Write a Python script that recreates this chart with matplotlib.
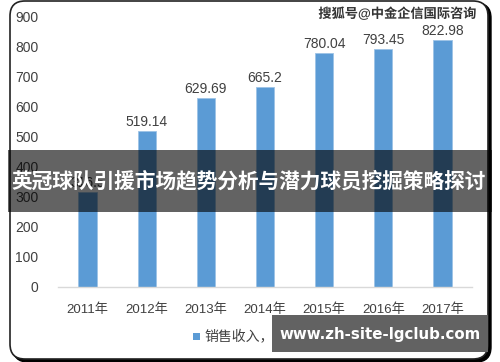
import matplotlib
matplotlib.use("Agg")
import matplotlib.pyplot as plt
from matplotlib.patches import FancyBboxPatch, Rectangle
import matplotlib.patheffects as pe

years = ["2011年", "2012年", "2013年", "2014年", "2015年", "2016年", "2017年"]
values = [316.5, 519.14, 629.69, 665.2, 780.04, 793.45, 822.98]
labels = ["316.5", "519.14", "629.69", "665.2", "780.04", "793.45", "822.98"]
yticks = [0, 100, 200, 300, 400, 500, 600, 700, 800, 900]
legend_label = "销售收入，亿元"
title = "英冠球队引援市场趋势分析与潜力球员挖掘策略探讨"
watermark_top = "搜狐号@中金企信国际咨询"
watermark_bottom = "www.zh-site-lgclub.com"

FAM = ["Liberation Sans", "Noto Sans CJK SC", "DejaVu Sans"]
plt.rcParams["font.family"] = FAM

W, H = 500, 362
fig = plt.figure(figsize=(5, 3.62), dpi=100)

def fx(x): return x / W
def fy(y): return 1 - y / H

# frame with shadow
shadow = FancyBboxPatch((fx(13), fy(362)), fx(478), 359 / H,
                        boxstyle="round,pad=0,rounding_size=0.03",
                        transform=fig.transFigure, facecolor="black",
                        edgecolor="black", zorder=-3, mutation_aspect=W / H)
frame = FancyBboxPatch((fx(10), fy(359)), fx(478), 358 / H,
                       boxstyle="round,pad=0,rounding_size=0.03",
                       transform=fig.transFigure, facecolor="white",
                       edgecolor="#222222", linewidth=1.2, zorder=-2,
                       mutation_aspect=W / H)
fig.patches.extend([shadow, frame])

ax = fig.add_axes([fx(58), fy(287), fx(414), (287 - 17) / H])
ax.patch.set_alpha(0)
x = list(range(len(years)))
bars = ax.bar(x, values, width=0.31, color="#5B9BD5", edgecolor="#9DC3E6",
              linewidth=0.6, zorder=2)
for xi, v, lab in zip(x, values, labels):
    ax.text(xi, v + 8, lab, ha="center", va="bottom", fontsize=10,
            color="#404040")
ax.set_xlim(-0.5, 6.5)
ax.set_ylim(0, 900)
ax.set_yticks(yticks)
ax.set_xticks(x)
ax.set_xticklabels(years)
for s in ["top", "right", "left"]:
    ax.spines[s].set_visible(False)
ax.spines["bottom"].set_color("#D9D9D9")
ax.spines["bottom"].set_linewidth(1.0)
ax.tick_params(axis="y", length=0, pad=14, labelsize=10, labelcolor="#404040")
ax.tick_params(axis="x", length=0, pad=12, labelsize=9.5, labelcolor="#404040")

# legend
fig.patches.append(Rectangle((fx(193), fy(340)), fx(7), 7 / H,
                             transform=fig.transFigure, facecolor="#5B9BD5",
                             edgecolor="none", zorder=3))
fig.text(fx(204), fy(336), legend_label, fontsize=10, color="#404040",
         va="center", ha="left", zorder=3)

# top watermark
fig.text(fx(477), fy(14), watermark_top, fontsize=9.5, color="#333333",
         fontweight="bold", ha="right", va="center", zorder=6,
         path_effects=[pe.withStroke(linewidth=2, foreground="white")])

# banner
fig.patches.append(Rectangle((fx(8), fy(212)), fx(484), 62 / H,
                             transform=fig.transFigure, facecolor="black",
                             alpha=0.61, edgecolor="none", zorder=5))
fig.text(fx(249), fy(181), title, fontsize=14.9, color="white",
         fontweight="bold", ha="center", va="center", zorder=6)

# bottom watermark box
fig.patches.append(Rectangle((fx(272), fy(352)), fx(216), 37 / H,
                             transform=fig.transFigure, facecolor="#626262",
                             edgecolor="none", zorder=5))
fig.text(fx(380), fy(334), watermark_bottom, fontsize=10.8, color="white",
         fontweight="bold", ha="center", va="center", zorder=6,
         family=["DejaVu Sans"])

fig.savefig("out.png", dpi=100)
